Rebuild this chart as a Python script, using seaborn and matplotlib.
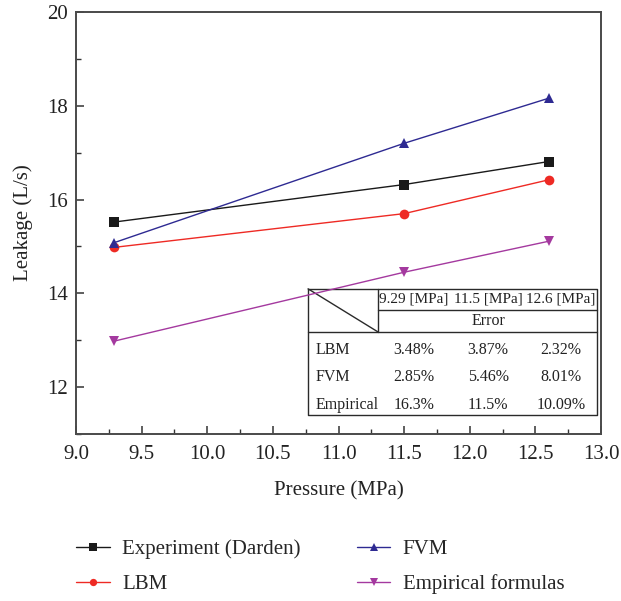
import numpy as np
import pandas as pd
from matplotlib import pyplot as plt
import seaborn as sns

# data
pressure = [9.29, 11.5, 12.6]
experiment = [15.52, 16.32, 16.81]
lbm = [14.98, 15.70, 16.42]
fvm = [15.08, 17.20, 18.16]
empirical = [12.98, 14.45, 15.11]

methods = ['Experiment (Darden)', 'LBM', 'FVM', 'Empirical formulas']
colors = {'Experiment (Darden)': '#1a1a1a', 'LBM': '#ee2a24',
          'FVM': '#2e2a92', 'Empirical formulas': '#a4399f'}
markers = {'Experiment (Darden)': 's', 'LBM': 'o',
           'FVM': '^', 'Empirical formulas': 'v'}

table_cols = ['9.29 [MPa]', '11.5 [MPa]', '12.6 [MPa]']
table_rows = ['LBM', 'FVM', 'Empirical']
table_vals = [['3.48%', '3.87%', '2.32%'],
              ['2.85%', '5.46%', '8.01%'],
              ['16.3%', '11.5%', '10.09%']]

df = pd.DataFrame({
    'Pressure': pressure * 4,
    'Leakage': experiment + lbm + fvm + empirical,
    'Method': np.repeat(methods, 3),
})

sns.set_style("ticks")
plt.rcParams['font.family'] = ['Liberation Serif', 'DejaVu Serif']

fig = plt.figure(figsize=(6.21, 6.01), dpi=100)
ax = fig.add_axes([0.1224, 0.2779, 0.8454, 0.7021])

sns.lineplot(data=df, x='Pressure', y='Leakage', hue='Method', style='Method',
             markers=markers, dashes=False, palette=colors, hue_order=methods,
             markersize=7, markeredgewidth=0, linewidth=1.0, ax=ax, zorder=3)

ax.set_xlim(9.0, 13.0)
ax.set_ylim(11, 20)
ax.set_xticks(np.arange(9.0, 13.01, 0.5))
ax.set_xticks(np.arange(9.25, 13.0, 0.5), minor=True)
ax.set_yticks([12, 14, 16, 18, 20])
ax.set_yticks([11, 13, 15, 17, 19], minor=True)
ax.set_xticklabels([f'{v:.1f}' for v in np.arange(9.0, 13.01, 0.5)])
ax.tick_params(which='both', direction='in', labelsize=15, colors='#333333',
               labelcolor='#222222')
ax.tick_params(which='major', length=6, width=1.1)
ax.tick_params(which='minor', length=3.5, width=1.0)
ax.tick_params(axis='x', pad=8)
ax.tick_params(axis='y', pad=6)
for s in ax.spines.values():
    s.set_color('#4a4a4a')
    s.set_linewidth(1.4)
ax.set_xlabel('Pressure (MPa)', fontsize=15, labelpad=12, color='#222222')
ax.set_ylabel('Leakage (L/s)', fontsize=15, labelpad=10, color='#222222')

# error table in axes fraction coords
L, R, T, B = 0.442, 0.992, 0.344, 0.045
vx, h1, h2 = 0.575, 0.294, 0.242
lk = dict(color='#2a2a2a', lw=1.0, transform=ax.transAxes, zorder=2)
ax.plot([L, R, R, L, L], [T, T, B, B, T], **lk)
ax.plot([L, R], [h2, h2], **lk)
ax.plot([vx, R], [h1, h1], **lk)
ax.plot([vx, vx], [T, h2], **lk)
ax.plot([L, vx], [T, h2], **lk)
col_x = [0.644, 0.785, 0.924]
tk = dict(transform=ax.transAxes, color='#222222', va='center')
for cx, c in zip(col_x, table_cols):
    ax.text(cx, 0.319, c, ha='center', fontsize=11, **tk)
ax.text(0.785, 0.268, 'Error', ha='center', fontsize=11.5, **tk)
for ry, rname, vals in zip([0.199, 0.135, 0.069], table_rows, table_vals):
    ax.text(0.456, ry, rname, ha='left', fontsize=11.5, **tk)
    for cx, v in zip(col_x, vals):
        ax.text(cx, ry, v, ha='center', fontsize=11.5, **tk)

handles, labels = ax.get_legend_handles_labels()
ax.legend(handles, labels, ncol=2, frameon=False, fontsize=15,
          loc='upper left', bbox_to_anchor=(-0.035, -0.205),
          handlelength=1.6, handletextpad=0.6, columnspacing=2.7,
          labelspacing=0.75, markerscale=0.75)

fig.savefig('out.png', dpi=100)
